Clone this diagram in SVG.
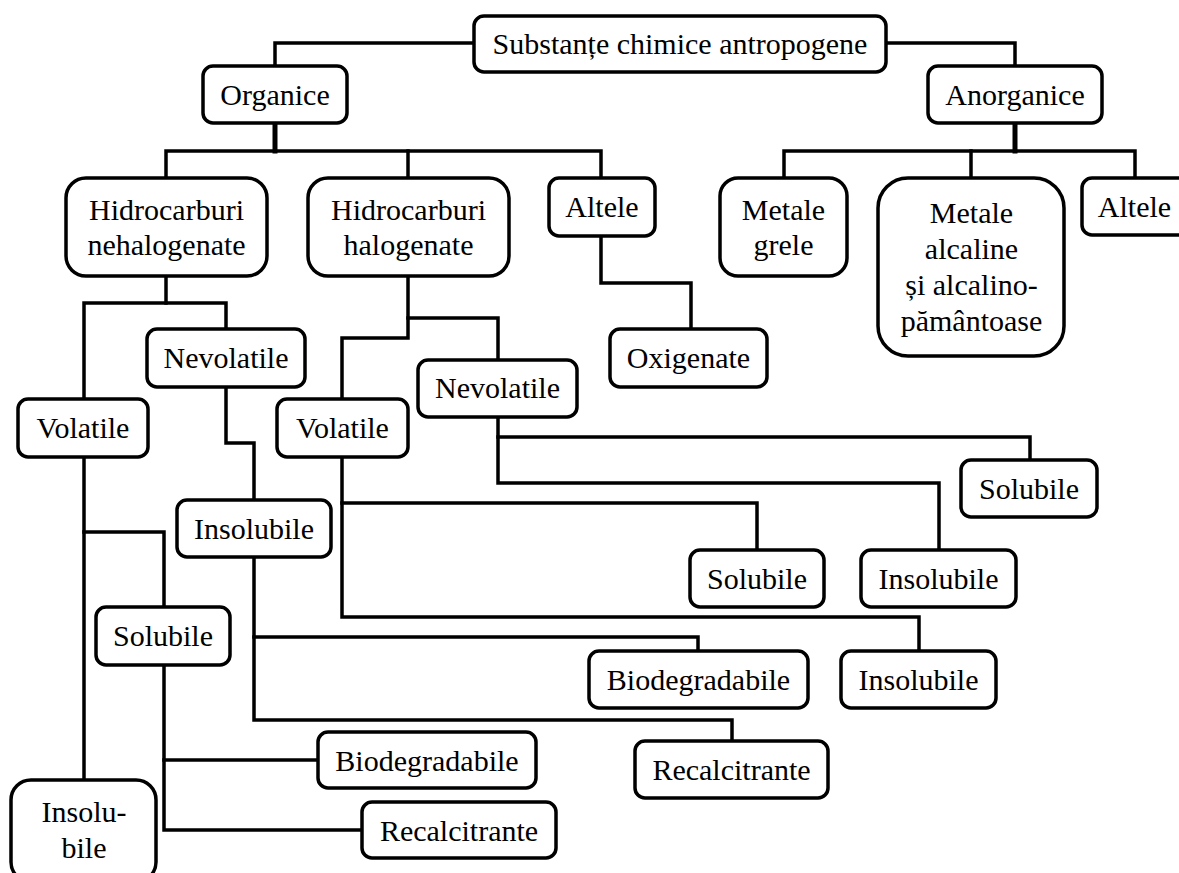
<svg xmlns="http://www.w3.org/2000/svg" width="1179" height="873" viewBox="0 0 1179 873">
<style>
.b{fill:#fff;stroke:#000;stroke-width:3.5}
.t{font-family:"Liberation Serif","Times New Roman",serif;font-size:30px;fill:#000;text-anchor:middle}
.c{fill:none;stroke:#000;stroke-width:3.5;stroke-linejoin:miter;stroke-linecap:square}
.k{stroke-width:5}
</style>
<rect width="1179" height="873" fill="#fff"/>
<g id="connectors">
<path class="c" d="M474,43 H275 V66"/>
<path class="c" d="M886,43 H1015 V66"/>
<path class="c k" d="M275,123 V151"/>
<path class="c" d="M166,178 V151 H601 V178"/>
<path class="c" d="M408,151 V178"/>
<path class="c k" d="M1015,123 V151"/>
<path class="c" d="M784,178 V151 H1135 V178"/>
<path class="c" d="M971,151 V178"/>
<path class="c" d="M601,236 V283 H691 V329"/>
<path class="c" d="M166,276 V303"/>
<path class="c" d="M84,399 V303 H226 V329"/>
<path class="c" d="M226,387 V443 H254 V500"/>
<path class="c" d="M84,457 V780"/>
<path class="c" d="M84,532 H164 V607"/>
<path class="c" d="M164,665 V830 H362"/>
<path class="c" d="M164,760 H318"/>
<path class="c" d="M254,557 V720 H732 V741"/>
<path class="c" d="M254,637 H698 V651"/>
<path class="c" d="M408,276 V338 H342 V399"/>
<path class="c" d="M408,318 H498 V360"/>
<path class="c" d="M498,417 V483 H939 V550"/>
<path class="c" d="M498,437 H1030 V460"/>
<path class="c" d="M342,457 V617 H919 V651"/>
<path class="c" d="M342,503 H757 V550"/>
</g>
<g id="n-substante"><rect class="b" x="474" y="16" width="412" height="56" rx="10"/><text class="t" x="680" y="54">Substanțe chimice antropogene</text></g>
<g id="n-organice"><rect class="b" x="203" y="66" width="144" height="57" rx="10"/><text class="t" x="275" y="105">Organice</text></g>
<g id="n-anorganice"><rect class="b" x="928" y="66" width="174" height="57" rx="10"/><text class="t" x="1015" y="105">Anorganice</text></g>
<g id="n-hnh"><rect class="b" x="66" y="178" width="201" height="98" rx="20"/><text class="t" x="166.5" y="220">Hidrocarburi</text><text class="t" x="166.5" y="255">nehalogenate</text></g>
<g id="n-hh"><rect class="b" x="308" y="178" width="201" height="98" rx="20"/><text class="t" x="408.5" y="220">Hidrocarburi</text><text class="t" x="408.5" y="255">halogenate</text></g>
<g id="n-altele1"><rect class="b" x="549" y="178" width="106" height="58" rx="10"/><text class="t" x="602" y="217">Altele</text></g>
<g id="n-metgrele"><rect class="b" x="720" y="178" width="127" height="98" rx="18"/><text class="t" x="783.5" y="220">Metale</text><text class="t" x="783.5" y="255">grele</text></g>
<g id="n-metalc"><rect class="b" x="878" y="178" width="186" height="178" rx="30"/><text class="t" x="971.5" y="223">Metale</text><text class="t" x="971.5" y="259">alcaline</text><text class="t" x="971.5" y="295">și alcalino-</text><text class="t" x="971.5" y="331">pământoase</text></g>
<g id="n-altele2"><rect class="b" x="1082" y="178" width="115" height="57" rx="10"/><text class="t" x="1134.5" y="217">Altele</text></g>
<g id="n-oxigenate"><rect class="b" x="610" y="329" width="157" height="58" rx="10"/><text class="t" x="688.5" y="368">Oxigenate</text></g>
<g id="n-nevol1"><rect class="b" x="147" y="329" width="158" height="58" rx="10"/><text class="t" x="226" y="368">Nevolatile</text></g>
<g id="n-vol1"><rect class="b" x="18" y="399" width="130" height="58" rx="10"/><text class="t" x="83" y="438">Volatile</text></g>
<g id="n-insol1"><rect class="b" x="177" y="500" width="154" height="57" rx="10"/><text class="t" x="254" y="539">Insolubile</text></g>
<g id="n-nevol2"><rect class="b" x="418" y="360" width="159" height="57" rx="10"/><text class="t" x="497.5" y="398">Nevolatile</text></g>
<g id="n-vol2"><rect class="b" x="277" y="399" width="131" height="58" rx="10"/><text class="t" x="342.5" y="438">Volatile</text></g>
<g id="n-sol-r1"><rect class="b" x="961" y="460" width="136" height="57" rx="10"/><text class="t" x="1029" y="499">Solubile</text></g>
<g id="n-sol-r2"><rect class="b" x="690" y="550" width="134" height="57" rx="10"/><text class="t" x="757" y="589">Solubile</text></g>
<g id="n-insol-r1"><rect class="b" x="861" y="550" width="155" height="57" rx="10"/><text class="t" x="938.5" y="589">Insolubile</text></g>
<g id="n-bio-r"><rect class="b" x="589" y="651" width="219" height="57" rx="10"/><text class="t" x="698.5" y="690">Biodegradabile</text></g>
<g id="n-insol-r2"><rect class="b" x="841" y="651" width="155" height="57" rx="10"/><text class="t" x="918.5" y="690">Insolubile</text></g>
<g id="n-rec-r"><rect class="b" x="635" y="741" width="193" height="57" rx="10"/><text class="t" x="731.5" y="780">Recalcitrante</text></g>
<g id="n-sol-l"><rect class="b" x="96" y="607" width="134" height="58" rx="10"/><text class="t" x="163" y="646">Solubile</text></g>
<g id="n-bio-l"><rect class="b" x="318" y="732" width="218" height="56" rx="10"/><text class="t" x="427" y="771">Biodegradabile</text></g>
<g id="n-rec-l"><rect class="b" x="362" y="802" width="194" height="56" rx="10"/><text class="t" x="459" y="841">Recalcitrante</text></g>
<g id="n-insolu-bile"><rect class="b" x="11" y="780" width="145" height="102" rx="20"/><text class="t" x="84" y="822">Insolu-</text><text class="t" x="84" y="858">bile</text></g>
</svg>
